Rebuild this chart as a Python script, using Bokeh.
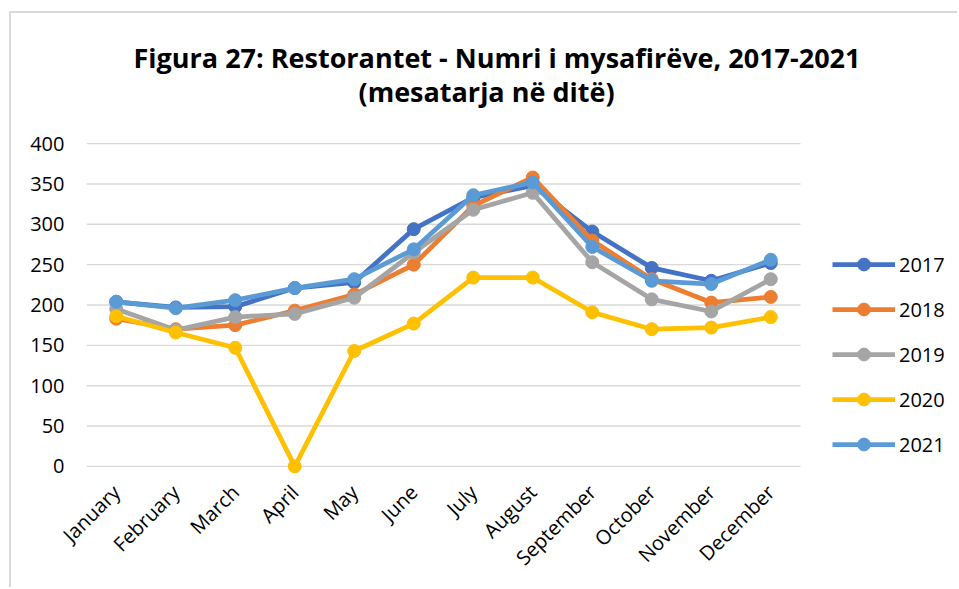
from bokeh.plotting import figure
from bokeh.models import (Range1d, FixedTicker, Legend, LegendItem, Title)
from bokeh.embed import file_html
from bokeh.resources import INLINE
import math

months = ["January", "February", "March", "April", "May", "June", "July",
          "August", "September", "October", "November", "December"]
years = ["2017", "2018", "2019", "2020", "2021"]
y2017 = [204, 197, 198, 221, 228, 294, 333, 348, 291, 246, 230, 252]
y2018 = [183, 170, 175, 193, 213, 250, 323, 358, 280, 232, 203, 210]
y2019 = [195, 169, 185, 189, 209, 265, 318, 339, 253, 207, 192, 232]
y2020 = [186, 166, 147, 0, 143, 177, 234, 234, 191, 170, 172, 185]
y2021 = [204, 196, 206, 221, 232, 269, 336, 352, 272, 230, 226, 256]
series = [y2017, y2018, y2019, y2020, y2021]
colors = ["#4472C4", "#ED7D31", "#A5A5A5", "#FFC000", "#5B9BD5"]
yticks = [0, 50, 100, 150, 200, 250, 300, 350, 400]
title1 = "Figura 27: Restorantet - Numri i mysafirëve, 2017-2021"
title2 = "(mesatarja në ditë)"

FONT = "Open Sans"
W, H = 948, 576
n = len(months)
xpos = list(range(n))
# extra room on the right (in category widths) for the legend
x_extra = 2.672

p = figure(width=W, height=H, x_range=Range1d(-0.5, n - 0.5 + x_extra),
           y_range=Range1d(-15, 415), output_backend="svg",
           toolbar_location=None, min_border_left=75, min_border_right=0,
           min_border_top=118, min_border_bottom=111)
p.margin = (13, 0, 0, 11)
p.styles = {"box-shadow": "-2px -2px 0 0 #D9D9D9"}
p.outline_line_color = None
p.background_fill_color = "white"
p.border_fill_color = "white"

p.xgrid.grid_line_color = None
p.ygrid.grid_line_color = None
p.segment(x0=[-0.5] * len(yticks), x1=[n - 0.5] * len(yticks),
          y0=yticks, y1=yticks, line_color="#D9D9D9", line_width=1.4)

p.yaxis.ticker = FixedTicker(ticks=yticks)
p.yaxis.axis_line_color = None
p.yaxis.major_tick_line_color = None
p.yaxis.minor_tick_line_color = None
p.yaxis.major_tick_out = 0
p.yaxis.major_tick_in = 0
p.yaxis.major_label_standoff = 22
p.yaxis.major_label_text_font = FONT
p.yaxis.major_label_text_font_size = "20px"
p.yaxis.major_label_text_color = "#000000"

p.xaxis.ticker = FixedTicker(ticks=xpos)
p.xaxis.major_label_overrides = {i: m for i, m in zip(xpos, months)}
p.xaxis.axis_line_color = None
p.xaxis.major_tick_line_color = None
p.xaxis.minor_tick_line_color = None
p.xaxis.major_tick_out = 0
p.xaxis.major_tick_in = 0
p.xaxis.major_label_orientation = math.pi / 4
p.xaxis.major_label_standoff = 10
p.xaxis.major_label_text_font = FONT
p.xaxis.major_label_text_font_size = "20px"
p.xaxis.major_label_text_color = "#000000"

items = []
for name, vals, c in zip(years, series, colors):
    r1 = p.line(xpos, vals, line_color=c, line_width=4.75)
    r2 = p.scatter(xpos, vals, size=13, fill_color=c, line_color=c)
    items.append(LegendItem(label=name, renderers=[r1, r2]))

legend = Legend(items=items, location=(746, 18), orientation="vertical",
                glyph_width=63, glyph_height=32, label_height=20,
                spacing=13, padding=0, margin=0, label_standoff=4,
                label_text_font=FONT, label_text_font_size="20px",
                label_text_color="#000000", border_line_alpha=0,
                background_fill_alpha=0)
p.add_layout(legend, "center")

p.add_layout(Title(text=title2, align="left", offset=272, standoff=43,
                   text_font=FONT, text_font_size="27px",
                   text_font_style="bold", text_color="#000000"), "above")
p.add_layout(Title(text=title1, align="left", offset=47, standoff=-52,
                   text_font=FONT, text_font_size="27px",
                   text_font_style="bold", text_color="#000000"), "above")

open("out.html", "w").write(file_html(p, INLINE))
